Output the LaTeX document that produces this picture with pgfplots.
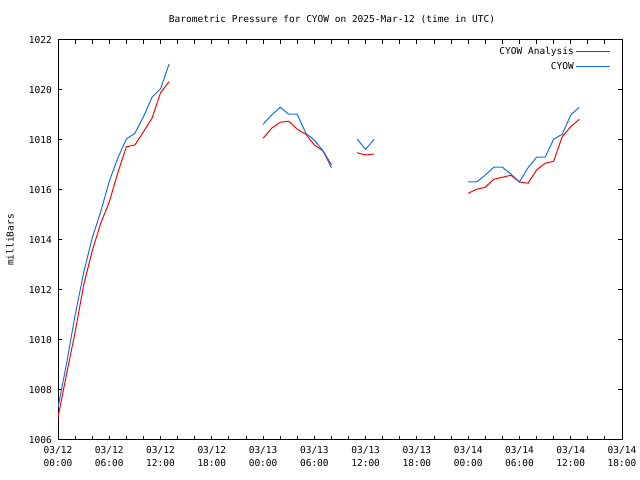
\documentclass[border=0pt]{standalone}
\usepackage{pgfplots}
\pgfplotsset{compat=1.18}
\usepackage{fontspec}
\setmainfont{DejaVu Sans Mono}
\definecolor{cyowblue}{RGB}{16,112,240}
\definecolor{cyowred}{RGB}{255,0,0}
\begin{document}
\fontsize{9.5bp}{11bp}\selectfont
\begin{tikzpicture}[x=1bp,y=1bp]
\useasboundingbox (0,0) rectangle (640,480);
\begin{axis}[
  at={(58bp,40bp)}, anchor=south west,
  scale only axis, width=564bp, height=400bp,
  xmin=0, xmax=66, ymin=1006, ymax=1022,
  unbounded coords=jump,
  axis line style={black, line width=1bp},
  xtick={0,6,...,66},
  minor xtick={0,2,...,66},
  xticklabels={{03/12\\00:00},{03/12\\06:00},{03/12\\12:00},{03/12\\18:00},{03/13\\00:00},{03/13\\06:00},{03/13\\12:00},{03/13\\18:00},{03/14\\00:00},{03/14\\06:00},{03/14\\12:00},{03/14\\18:00}},
  xticklabel style={align=center, font=\fontsize{9.5bp}{13.5bp}\selectfont, inner sep=0pt, yshift=-6bp},
  ytick={1006,1008,...,1022},
  yticklabels={1006,1008,1010,1012,1014,1016,1018,1020,1022},
  yticklabel style={font=\fontsize{9.5bp}{11bp}\selectfont, inner sep=0pt, xshift=-6bp},
  tick align=inside,
  major tick length=4bp, minor tick length=4bp,
  tick style={black, line width=1bp},
  legend style={draw=none, fill=none, at={(1,1)}, anchor=north east, xshift=-8bp, yshift=-3bp,
    font=\fontsize{9.5bp}{11bp}\selectfont, row sep=2.5bp,
    legend cell align=right},
  legend plot pos=right,
  legend image code/.code={\path (0bp,0bp) -- (34bp,0bp); \draw[#1] (6bp,0bp) -- (34bp,0bp);},
]
\addplot[cyowred, line width=1bp] coordinates {
(0,1006.9) (1,1008.64) (2,1010.31) (3,1012.19) (4,1013.56) (5,1014.67) (6,1015.52) (7,1016.69) (8,1017.73) (9,1017.8) (10,1018.33) (11,1018.87) (12,1019.89) (13,1020.33)
(14,nan)
(24,1018.07) (25,1018.47) (26,1018.71) (27,1018.75) (28,1018.43) (29,1018.23) (30,1017.8) (31,1017.57) (32,1017.0)
(33,nan)
(35,1017.49) (36,1017.4) (37,1017.44)
(38,nan)
(48,1015.87) (49,1016.03) (50,1016.11) (51,1016.43) (52,1016.51) (53,1016.59) (54,1016.32) (55,1016.27) (56,1016.8) (57,1017.07) (58,1017.15) (59,1018.13) (60,1018.53) (61,1018.83)
};
\addlegendentry{CYOW Analysis}
\addplot[cyowblue, line width=1bp] coordinates {
(0,1007.3) (1,1009.05) (2,1010.99) (3,1012.69) (4,1014.08) (5,1015.13) (6,1016.35) (7,1017.28) (8,1018.04) (9,1018.27) (10,1018.93) (11,1019.71) (12,1020.05) (13,1021.04)
(14,nan)
(24,1018.63) (25,1019.0) (26,1019.31) (27,1019.03) (28,1019.03) (29,1018.27) (30,1018.0) (31,1017.57) (32,1016.89)
(33,nan)
(35,1018.03) (36,1017.63) (37,1018.03)
(38,nan)
(48,1016.32) (49,1016.32) (50,1016.6) (51,1016.91) (52,1016.91) (53,1016.64) (54,1016.32) (55,1016.89) (56,1017.31) (57,1017.31) (58,1018.03) (59,1018.23) (60,1019.0) (61,1019.31)
};
\addlegendentry{CYOW}
\end{axis}
\node at (332,460) {Barometric Pressure for CYOW on 2025-Mar-12 (time in UTC)};
\node[rotate=90] at (10,240) {milliBars};
\end{tikzpicture}
\end{document}
